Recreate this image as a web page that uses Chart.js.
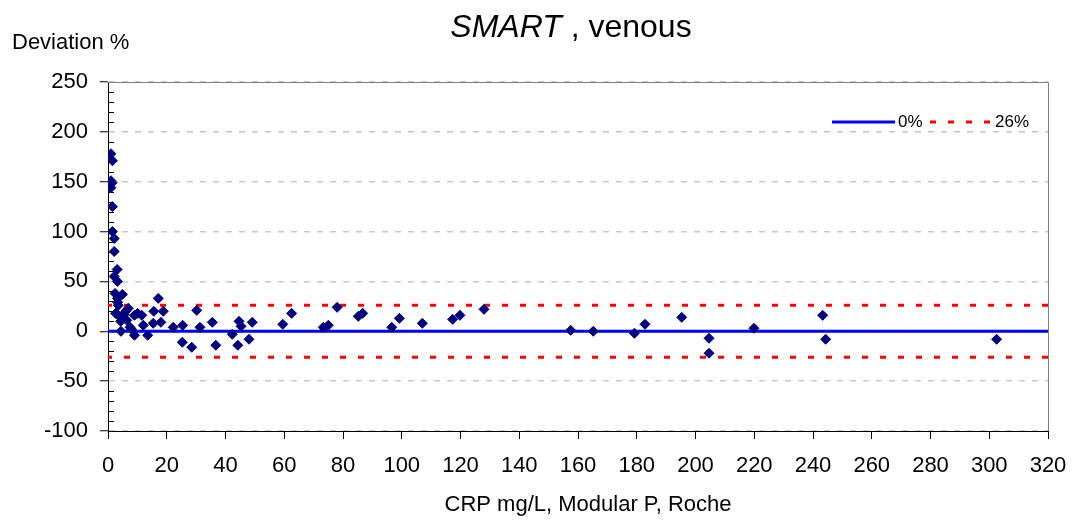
<!DOCTYPE html>
<html>
<head>
<meta charset="utf-8">
<title>SMART, venous</title>
<script src="https://cdn.jsdelivr.net/npm/chart.js@4"></script>
<style>
    body { margin: 0; background: #ffffff; }
    canvas { display: block; }
</style>
</head>
<body>
<canvas id="chart" width="1075" height="521"></canvas>
<script>
// CRP (mg/L, Modular P, Roche) and the deviation (%) of SMART, venous
const crpValues = [
    1.0, 1.5, 1.0, 1.4, 1.0, 1.5, 1.5, 2.1, 2.1, 3.1,
    2.1, 3.2, 2.4, 4.9, 3.2, 3.3, 3.5, 2.6, 3.5, 4.7,
    4.3, 5.5, 6.9, 6.0, 7.5, 6.4, 8.0, 9.0, 10.1, 11.5,
    12.0, 4.4, 9.0, 13.5, 15.4, 15.6, 17.1, 18.0, 18.8, 22.2,
    25.4, 25.3, 28.5, 30.2, 31.3, 35.5, 36.7, 42.3, 44.2, 44.6,
    45.3, 48.0, 49.1, 59.5, 62.5, 73.3, 75.0, 78.0, 85.2, 86.7,
    96.6, 99.2, 107.0, 117.3, 119.8, 128.0, 157.5, 165.2, 179.2, 182.8,
    195.3, 204.6, 204.6, 219.9, 243.3, 244.3, 302.5
];
const deviationValues = [
    178, 171, 151, 149, 144, 125, 100, 93, 80, 62,
    55, 50, 38, 37, 33, 29, 26, 18, 16, 13,
    10, 17, 23, 20, 4, 11, 2, 16, 18, 16,
    6, 0, -4, -4, 8, 20, 33, 9, 20, 4,
    6, -11, -16, 21, 4, 9, -14, -3, -14, 10,
    5, -8, 9, 7, 18, 4, 6, 24, 15, 18,
    4, 13, 8, 12, 16, 22, 1, 0, -2, 7,
    14, -7, -22, 3, 16, -8, -8
];

// reference lines: 0 % and the +/- 26 % limit
const lineRange = [0, 320];
const zeroLevel = 0;
const limitLevel = 26;

const xTicks = { min: 0, max: 320, step: 20 };
const yTicks = { min: -100, max: 250, step: 50, minorStep: 10 };

const fontFamily = '"Liberation Sans", Arial, Helvetica, sans-serif';

const points = crpValues.map((x, i) => ({ x: x, y: deviationValues[i] }));
const lineAt = level => lineRange.map(x => ({ x: x, y: level }));

// titles, legend, frame and minor ticks, drawn like the Excel original
const decorations = {
    id: 'decorations',
    beforeDatasetsDraw(chart) {
        const { ctx, chartArea: area, scales } = chart;
        ctx.save();
        // grey frame on top and right
        ctx.strokeStyle = '#808080';
        ctx.lineWidth = 1;
        ctx.beginPath();
        ctx.moveTo(area.left, area.top + 0.5);
        ctx.lineTo(area.right + 0.5, area.top + 0.5);
        ctx.lineTo(area.right + 0.5, area.bottom);
        ctx.stroke();
        // minor ticks on the y axis, inside
        ctx.strokeStyle = '#000000';
        ctx.beginPath();
        for (let v = yTicks.min; v <= yTicks.max; v += yTicks.minorStep) {
            if (v % yTicks.step === 0) continue;
            const y = Math.round(scales.y.getPixelForValue(v)) + 0.5;
            ctx.moveTo(area.left, y);
            ctx.lineTo(area.left + 6, y);
        }
        ctx.stroke();
        ctx.restore();
    },
    afterDraw(chart) {
        const { ctx } = chart;
        ctx.save();
        ctx.fillStyle = '#000000';
        ctx.textBaseline = 'alphabetic';

        // chart title: italic SMART, then plain text
        const part1 = 'SMART';
        const part2 = ' , venous';
        ctx.font = 'italic 32px ' + fontFamily;
        const w1 = ctx.measureText(part1).width;
        ctx.font = '32px ' + fontFamily;
        const w2 = ctx.measureText(part2).width;
        let tx = 571 - (w1 + w2) / 2;
        ctx.font = 'italic 32px ' + fontFamily;
        ctx.textAlign = 'left';
        ctx.fillText(part1, tx, 37);
        ctx.font = '32px ' + fontFamily;
        ctx.fillText(part2, tx + w1, 37);

        // y axis title
        ctx.font = '22px ' + fontFamily;
        ctx.textBaseline = 'middle';
        ctx.fillText('Deviation %', 12, 43);

        // x axis title
        ctx.textAlign = 'center';
        ctx.fillText('CRP mg/L, Modular P, Roche', 588, 505);

        // legend
        ctx.lineWidth = 3;
        ctx.strokeStyle = '#0000ff';
        ctx.beginPath();
        ctx.moveTo(832, 122);
        ctx.lineTo(895, 122);
        ctx.stroke();
        ctx.strokeStyle = '#ff0000';
        ctx.setLineDash([6, 12]);
        ctx.beginPath();
        ctx.moveTo(930, 122);
        ctx.lineTo(995, 122);
        ctx.stroke();
        ctx.setLineDash([]);
        ctx.font = '17px ' + fontFamily;
        ctx.textAlign = 'left';
        ctx.fillText('0%', 898, 122);
        ctx.fillText('26%', 995, 122);
        ctx.restore();
    }
};

new Chart(document.getElementById('chart'), {
    type: 'scatter',
    data: {
        datasets: [
            {
                label: 'SMART, venous',
                data: points,
                pointStyle: 'rectRot',
                pointRadius: 5,
                pointHoverRadius: 5,
                backgroundColor: '#000080',
                borderColor: '#000080',
                borderWidth: 1,
                order: 0
            },
            {
                label: '0%',
                type: 'line',
                data: lineAt(zeroLevel),
                borderColor: '#0000ff',
                borderWidth: 3,
                pointRadius: 0,
                order: 1
            },
            {
                label: '26%',
                type: 'line',
                data: lineAt(limitLevel),
                borderColor: '#ff0000',
                borderWidth: 3,
                borderDash: [6, 12],
                borderDashOffset: 2,
                pointRadius: 0,
                order: 2
            },
            {
                label: '-26%',
                type: 'line',
                data: lineAt(-limitLevel),
                borderColor: '#ff0000',
                borderWidth: 3,
                borderDash: [6, 12],
                borderDashOffset: 2,
                pointRadius: 0,
                order: 2
            }
        ]
    },
    options: {
        responsive: false,
        animation: false,
        events: [],
        layout: {
            padding: { top: 82, bottom: 0, left: 0, right: 27 }
        },
        scales: {
            x: {
                type: 'linear',
                min: xTicks.min,
                max: xTicks.max,
                afterFit: scale => {
                    scale.height = 90;
                    scale.paddingLeft = 0;
                    scale.paddingRight = 0;
                },
                ticks: {
                    stepSize: xTicks.step,
                    color: '#000000',
                    font: { family: fontFamily, size: 22 },
                    padding: 14,
                    maxRotation: 0,
                    autoSkip: false
                },
                grid: {
                    drawOnChartArea: false,
                    drawTicks: true,
                    tickLength: 8,
                    tickColor: '#000000'
                },
                border: { color: '#000000', width: 1 }
            },
            y: {
                type: 'linear',
                min: yTicks.min,
                max: yTicks.max,
                afterFit: scale => {
                    scale.width = 108;
                    scale.paddingTop = 0;
                    scale.paddingBottom = 0;
                },
                ticks: {
                    stepSize: yTicks.step,
                    color: '#000000',
                    font: { family: fontFamily, size: 22 },
                    padding: 12
                },
                grid: {
                    color: '#c8c8c8',
                    lineWidth: 1.5,
                    drawTicks: true,
                    tickLength: 8,
                    tickColor: '#000000',
                    tickWidth: 1
                },
                border: { color: '#000000', width: 1, dash: [6, 7] }
            }
        },
        plugins: {
            legend: { display: false },
            title: { display: false },
            tooltip: { enabled: false }
        }
    },
    plugins: [decorations]
});
</script>
</body>
</html>
